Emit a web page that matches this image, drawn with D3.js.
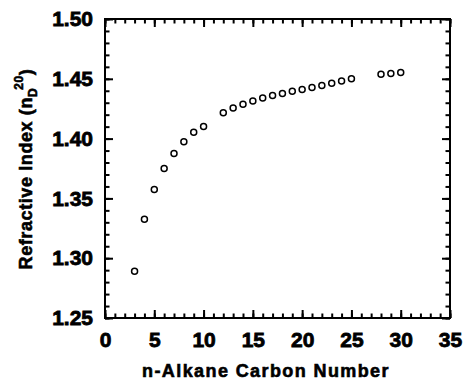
<!DOCTYPE html>
<html>
<head>
<meta charset="utf-8">
<script src="https://cdn.jsdelivr.net/npm/d3@7"></script>
<style>
  body { margin: 0; background: #fff; }
  text { font-family: "Liberation Sans", Arial, sans-serif; font-weight: bold; fill: #000; stroke: #000; stroke-width: 0.6px; }
</style>
</head>
<body>
<div id="chart"></div>
<script>
// carbon numbers and refractive index (nD20)
const carbonNumbers = [3, 4, 5, 6, 7, 8, 9, 10, 12, 13, 14, 15, 16, 17, 18, 19, 20, 21, 22, 23, 24, 25, 28, 29, 30];
const refractiveIndex = [1.2890, 1.3326, 1.3575, 1.3749, 1.3876, 1.3974, 1.4054, 1.4102, 1.4217, 1.4256, 1.4288, 1.4315, 1.4340, 1.4360, 1.4378, 1.4395, 1.4410, 1.4428, 1.4443, 1.4462, 1.4482, 1.4500, 1.4537, 1.4544, 1.4552];
const xTicks = [0, 5, 10, 15, 20, 25, 30, 35];
const yTicks = [1.25, 1.30, 1.35, 1.40, 1.45, 1.50];
const xLabel = 'n-Alkane Carbon Number';

const width = 464, height = 382;
const margin = { top: 19, right: 14, bottom: 64, left: 105 };

const svg = d3.select('#chart').append('svg')
  .attr('width', width)
  .attr('height', height);

const x = d3.scaleLinear().domain([0, 35]).range([margin.left, width - margin.right]);
const y = d3.scaleLinear().domain([1.25, 1.50]).range([height - margin.bottom, margin.top]);

const xMinor = d3.range(0, 36, 1);
const yMinor = d3.range(0, 26, 1).map(d => 1.25 + d * 0.01);

function styleAxis(g) {
  g.select('.domain').remove();
  g.selectAll('line').attr('stroke', '#000').attr('stroke-width', 2);
  g.selectAll('text').style('font-size', '21px').style('font-weight', 'bold').style('stroke-width', '0.8px');
}

// minor ticks, all four sides
svg.append('g').attr('transform', `translate(0,${y(1.25)})`)
  .call(d3.axisBottom(x).tickValues(xMinor).tickFormat('').tickSize(-4.5)).call(styleAxis);
svg.append('g').attr('transform', `translate(0,${y(1.50)})`)
  .call(d3.axisTop(x).tickValues(xMinor).tickFormat('').tickSize(-4.5)).call(styleAxis);
svg.append('g').attr('transform', `translate(${x(0)},0)`)
  .call(d3.axisLeft(y).tickValues(yMinor).tickFormat('').tickSize(-4.5)).call(styleAxis);
svg.append('g').attr('transform', `translate(${x(35)},0)`)
  .call(d3.axisRight(y).tickValues(yMinor).tickFormat('').tickSize(-4.5)).call(styleAxis);

// major ticks with labels
svg.append('g').attr('transform', `translate(0,${y(1.25)})`)
  .call(d3.axisBottom(x).tickValues(xTicks).tickFormat(d3.format('d')).tickSize(-8).tickPadding(14))
  .call(styleAxis);
svg.append('g').attr('transform', `translate(0,${y(1.50)})`)
  .call(d3.axisTop(x).tickValues(xTicks).tickFormat('').tickSize(-8)).call(styleAxis);
svg.append('g').attr('transform', `translate(${x(0)},0)`)
  .call(d3.axisLeft(y).tickValues(yTicks).tickFormat(d3.format('.2f')).tickSize(-8).tickPadding(12))
  .call(styleAxis);
svg.append('g').attr('transform', `translate(${x(35)},0)`)
  .call(d3.axisRight(y).tickValues(yTicks).tickFormat('').tickSize(-8)).call(styleAxis);

// frame
svg.append('rect')
  .attr('x', x(0)).attr('y', y(1.50))
  .attr('width', x(35) - x(0)).attr('height', y(1.25) - y(1.50))
  .attr('fill', 'none').attr('stroke', '#000').attr('stroke-width', 2);

// data
svg.append('g').selectAll('circle')
  .data(carbonNumbers.map((c, i) => [c, refractiveIndex[i]]))
  .enter()
  .append('circle')
  .attr('cx', d => x(d[0]))
  .attr('cy', d => y(d[1]))
  .attr('r', 3)
  .attr('fill', 'none')
  .attr('stroke', '#000')
  .attr('stroke-width', 1.5);

// axis titles
svg.append('text')
  .attr('x', 266).attr('y', 377)
  .attr('text-anchor', 'middle')
  .style('font-size', '18px')
  .style('letter-spacing', '1.4px')
  .text(xLabel);

const yTitle = svg.append('text')
  .attr('transform', 'translate(32,169) rotate(-90)')
  .attr('text-anchor', 'middle')
  .style('font-size', '18px')
  .style('letter-spacing', '0.6px');
yTitle.append('tspan').text('Refractive Index (n');
yTitle.append('tspan').attr('dy', 5).style('font-size', '12px').text('D');
yTitle.append('tspan').attr('dy', -14).attr('dx', -2).style('font-size', '12px').text('20');
yTitle.append('tspan').attr('dy', 9).text(')');
</script>
</body>
</html>
